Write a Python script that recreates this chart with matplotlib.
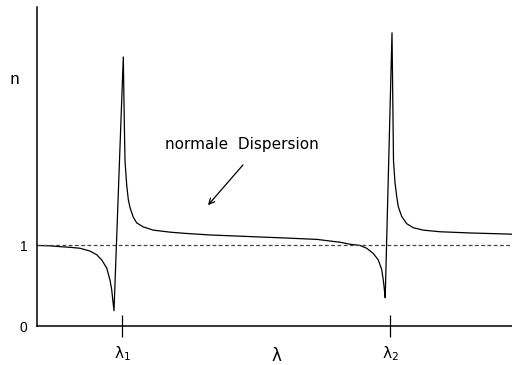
import matplotlib
matplotlib.use("Agg")
import matplotlib.pyplot as plt

# wavelength axis (arbitrary units) and refractive index n
lam = [0, 13, 23, 33, 43, 53, 59.7, 64.7, 69.7, 73,
       74.7, 76, 77, 86.3, 87.2, 88, 89.7, 91.3, 93, 96.3,
       99.7, 106.3, 116.3, 133, 148, 173, 213, 253, 280, 293,
       303, 313, 323, 329.7, 336.3, 341.3, 344.7, 346.3, 347.3, 348.2,
       355, 355.8, 356.5, 358, 359.7, 361.3, 364.7, 369.7, 376.3, 386.3,
       403, 433, 475]
n = [1.00, 0.995, 0.985, 0.977, 0.965, 0.93, 0.885, 0.82, 0.72, 0.57,
     0.45, 0.30, 0.19, 3.34, 2.6, 2.05, 1.75, 1.57, 1.47, 1.35,
     1.28, 1.23, 1.19, 1.165, 1.15, 1.13, 1.11, 1.09, 1.075, 1.055,
     1.04, 1.015, 1.00, 0.965, 0.90, 0.82, 0.70, 0.57, 0.46, 0.35,
     3.64, 2.8, 2.05, 1.78, 1.61, 1.48, 1.36, 1.27, 1.22, 1.19,
     1.17, 1.155, 1.14]

lam_res = [85, 353]
lam_res_labels = [r'$\mathregular{\lambda_1}$', r'$\mathregular{\lambda_2}$']
y_ticks = [0, 1]
y_tick_labels = ['0', '1']
x_max = 475
y_max = 3.96

annot_text = 'normale  Dispersion'
annot_xy = (171, 1.50)
annot_from = (206, 2.00)
annot_text_pos = (205, 2.25)

fig = plt.figure(figsize=(5.12, 3.65), dpi=100)
ax = fig.add_axes([37/512, 39/365, 1 - 37/512, (326 - 7)/365])

ax.plot(lam, n, color='black', lw=0.9)
ax.axhline(1, color='#444444', lw=0.9, ls=(0, (3, 2)))

ax.set_xlim(0, x_max)
ax.set_ylim(0, y_max)

for s in ['top', 'right']:
    ax.spines[s].set_visible(False)
for s in ['left', 'bottom']:
    ax.spines[s].set_linewidth(1.1)

ax.set_xticks(lam_res)
ax.set_xticklabels(lam_res_labels, fontsize=11, family='DejaVu Sans')
ax.tick_params(axis='x', direction='inout', length=16, width=0.9, pad=5)
ax.set_yticks(y_ticks)
ax.set_yticklabels(y_tick_labels, fontsize=10, family='Liberation Sans')
ax.tick_params(axis='y', length=0, pad=7)

ax.set_xlabel(r'$\mathregular{\lambda}$', fontsize=12, va='center')
ax.xaxis.set_label_coords((277 - 37) / 475, (326 - 356) / 319)
ax.set_ylabel('n', fontsize=12, family='Liberation Mono', rotation=0,
              va='center', ha='center')
ax.yaxis.set_label_coords(-(37 - 15) / 475, (326 - 80) / 319)

ax.annotate('', xy=annot_xy, xytext=annot_from,
            arrowprops=dict(arrowstyle='->', color='black', lw=0.9,
                            shrinkA=0, shrinkB=0, mutation_scale=10))
ax.text(annot_text_pos[0], annot_text_pos[1], annot_text, fontsize=11,
        family='DejaVu Sans', ha='center', va='center')

fig.savefig('out.png', dpi=100)
